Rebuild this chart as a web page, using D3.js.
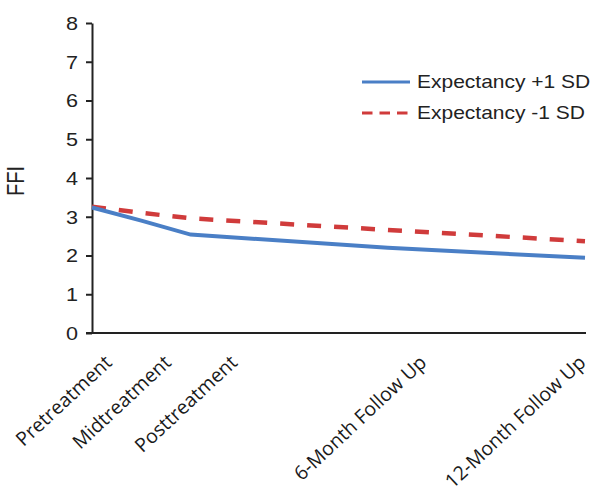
<!DOCTYPE html>
<html>
<head>
<meta charset="utf-8">
<script src="https://cdnjs.cloudflare.com/ajax/libs/d3/7.8.5/d3.min.js"></script>
<style>
  body { margin: 0; background: #fff; }
  svg { display: block; }
</style>
</head>
<body>
<div id="chart"></div>
<script>
// time points (months from baseline) and their labels
const timeLabels = ["Pretreatment", "Midtreatment", "Posttreatment", "6-Month Follow Up", "12-Month Follow Up"]
const timeMonths = [0, 1.5, 3, 9, 15]
// FFI estimates
const seriesNames = ["Expectancy +1 SD", "Expectancy -1 SD"]
const highExpectancy = [3.24, 2.9, 2.54, 2.2, 1.94]
const lowExpectancy = [3.26, 3.1, 2.96, 2.66, 2.37]
const yTicks = [0, 1, 2, 3, 4, 5, 6, 7, 8]

const W = 602, H = 496
const stretch = 1.2 // the source figure is a bit wide
const cfg = {
  left: 92, right: 585, top: 23, bottom: 333,
  blue: "#4a7fc6", red: "#d03b3b",
  labelNudge: [21, 31, 48, 40, 2]
}

const svg = d3.select("#chart").append("svg")
  .attr("width", W)
  .attr("height", H)

const x = d3.scaleLinear().domain([0, 15]).range([cfg.left, cfg.right])
const y = d3.scaleLinear().domain([0, 8]).range([cfg.bottom, cfg.top])

// y axis
const yAxis = svg.append("g")
  .attr("transform", "translate(" + cfg.left + ",0)")
  .call(d3.axisLeft(y).tickValues(yTicks).tickSize(6).tickSizeOuter(0))
yAxis.select(".domain").attr("stroke", "#222").attr("stroke-width", 2)
yAxis.selectAll(".tick line").attr("stroke", "#222").attr("stroke-width", 2)
yAxis.selectAll(".tick text")
  .attr("x", -14 / stretch)
  .attr("dy", "0.36em")
  .attr("transform", "scale(" + stretch + ",1)")
  .style("font-family", "'Liberation Sans', Arial, sans-serif")
  .style("font-size", "18px")
  .attr("fill", "#222")

// x axis: just the baseline
const xAxis = svg.append("g")
  .attr("transform", "translate(0," + cfg.bottom + ")")
  .call(d3.axisBottom(x).tickValues([]).tickSizeOuter(0))
xAxis.select(".domain").attr("stroke", "#222").attr("stroke-width", 2)
  .attr("d", "M" + (cfg.left - 6) + ",0H" + (cfg.right + 1))

// x labels, rotated
svg.append("g").selectAll("text")
  .data(timeLabels)
  .enter()
  .append("text")
  .attr("transform", function (d, i) {
    return "translate(" + (x(timeMonths[i]) + cfg.labelNudge[i]) + "," + (cfg.bottom + 31) + ") rotate(-43)"
  })
  .attr("text-anchor", "end")
  .style("font-family", "'Open Sans', sans-serif")
  .style("font-size", "19.5px")
  .attr("fill", "#1a1a1a")
  .text(d => d)

// y title
svg.append("text")
  .attr("transform", "translate(24,181) scale(" + stretch + ",1) rotate(-90)")
  .attr("text-anchor", "middle")
  .style("font-family", "'Liberation Sans', Arial, sans-serif")
  .style("font-size", "20px")
  .attr("fill", "#222")
  .text("FFI")

// lines
const line = d3.line()
  .x((d, i) => x(timeMonths[i]))
  .y(d => y(d))

svg.append("path")
  .datum(lowExpectancy)
  .attr("d", line)
  .attr("fill", "none")
  .attr("stroke", cfg.red)
  .attr("stroke-width", 4.5)
  .attr("stroke-dasharray", "14,13")

svg.append("path")
  .datum(highExpectancy)
  .attr("d", line)
  .attr("fill", "none")
  .attr("stroke", cfg.blue)
  .attr("stroke-width", 4)

// legend
const legend = svg.append("g").attr("transform", "translate(362,82)")
const items = legend.selectAll("g")
  .data(seriesNames)
  .enter()
  .append("g")
  .attr("transform", (d, i) => "translate(0," + i * 31 + ")")
items.append("line")
  .attr("x1", 0).attr("x2", 48)
  .attr("stroke", (d, i) => i === 0 ? cfg.blue : cfg.red)
  .attr("stroke-width", 3)
  .attr("stroke-dasharray", (d, i) => i === 0 ? null : "10.5,7")
items.append("text")
  .attr("x", 55 / stretch)
  .attr("y", 6)
  .attr("transform", "scale(" + stretch + ",1)")
  .style("font-family", "'Liberation Sans', Arial, sans-serif")
  .style("font-size", "17.5px")
  .attr("fill", "#222")
  .text(d => d)
</script>
</body>
</html>
